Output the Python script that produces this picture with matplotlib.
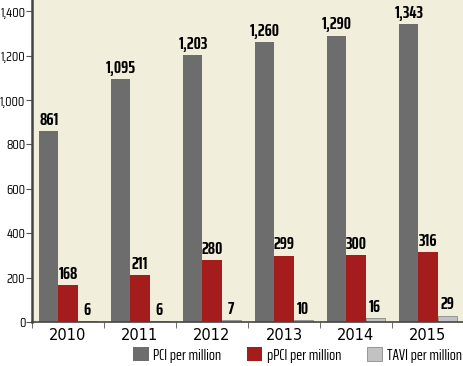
import matplotlib as mpl
mpl.use('Agg')
import numpy as np
import matplotlib.pyplot as plt

years = ['2010', '2011', '2012', '2013', '2014', '2015']
pci = [861, 1095, 1203, 1260, 1290, 1343]
ppci = [168, 211, 280, 299, 300, 316]
tavi = [6, 6, 7, 10, 16, 29]

cond = ['Saira Condensed', 'DejaVu Sans']
xcond = ['Saira ExtraCondensed', 'DejaVu Sans']

fig = plt.figure(figsize=(4.64, 3.66), dpi=100)
ax = fig.add_axes([32/464, 1 - 322/366, 1 - 32/464, 322/366])
ax.set_facecolor('#f2eedc')

x = np.arange(len(years))
w = 0.264
b1 = ax.bar(x - w, pci, w, color='#6d6d6d', label='PCI per million')
b2 = ax.bar(x, ppci, w, color='#a51c1c', label='pPCI per million')
b3 = ax.bar(x + w, tavi, w, color='#c2c2c2', edgecolor='#8a8a8a', linewidth=0.6,
            label='TAVI per million')

# value labels over each bar
for bars in (b1, b2, b3):
    for r in bars:
        v = r.get_height()
        ax.text(r.get_x() + r.get_width()/2, v + 14, f'{int(v):,}', ha='center', va='bottom',
                fontsize=13, fontweight='bold', family=xcond)

ax.set_xlim(-0.5, len(years) - 0.5)
ax.set_ylim(0, 1450)
ax.set_yticks(range(0, 1401, 200))
ax.set_yticklabels([f'{v:,}' for v in range(0, 1401, 200)], family=cond, fontsize=9.5)
ax.set_xticks(x)
ax.set_xticklabels(years, fontsize=10.5, family='DejaVu Sans')
ax.tick_params(axis='x', length=0, pad=4)
ax.set_xticks(np.arange(-0.5, len(years)), minor=True)
ax.tick_params(axis='x', which='minor', length=4, color='#555555')
ax.tick_params(axis='y', length=4, color='#555555', pad=0.8)

for s in ('top', 'right'):
    ax.spines[s].set_visible(False)
ax.spines['left'].set_linewidth(1.8)
ax.spines['left'].set_color('#444444')
ax.spines['bottom'].set_linewidth(1.2)
ax.spines['bottom'].set_color('#444444')

leg = fig.legend(handles=[b1, b2, b3], loc='center right', bbox_to_anchor=(462/464, 1 - 355/366),
                 ncol=3, frameon=False, prop={'family': xcond, 'size': 11.5}, handlelength=0.95,
                 handleheight=0.95, columnspacing=1.6, handletextpad=0.3, borderpad=0,
                 borderaxespad=0)

fig.savefig('out.png', dpi=100)
